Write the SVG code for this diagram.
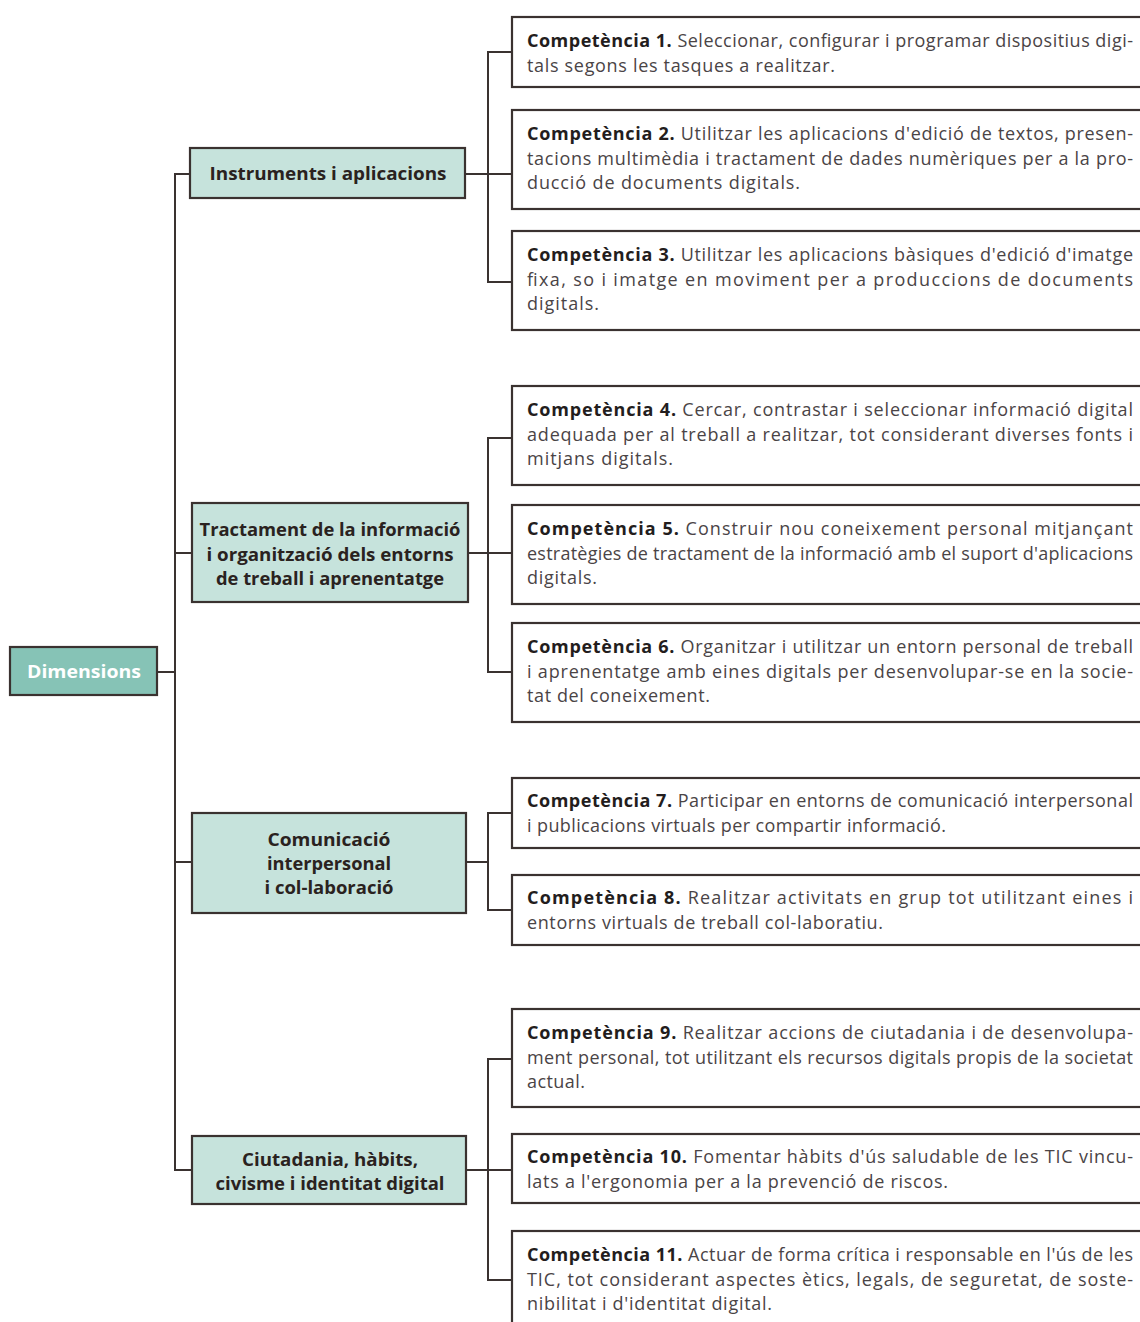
<svg xmlns="http://www.w3.org/2000/svg" width="1140" height="1322" viewBox="0 0 1140 1322">
<style>
.bg{fill:#ffffff}
.comp{fill:#ffffff;stroke:#3a3230;stroke-width:2.2}
.dim{fill:#c6e3dc;stroke:#3a3230;stroke-width:2.2}
.root{fill:#86c3b6;stroke:#3a3230;stroke-width:2.2}
.lbl{font-family:"Open Sans","Liberation Sans",sans-serif;font-size:18px;font-weight:bold;fill:#2a2220;text-anchor:middle}
.rootlbl{font-family:"Open Sans","Liberation Sans",sans-serif;font-size:18px;font-weight:bold;fill:#ffffff;text-anchor:middle}
.t{font-family:"Open Sans","Liberation Sans",sans-serif;font-size:18px;fill:#4a4446}
.b{font-weight:bold;fill:#231d1d}
.conn{fill:none;stroke:#3a3230;stroke-width:2}
</style>
<rect class="bg" x="0" y="0" width="1140" height="1322"/>

<g id="connectors">
  <path class="conn" d="M157,672 H175"/>
  <path class="conn" d="M190,174 H175 V1170 H192"/>
  <path class="conn" d="M175,553 H192"/>
  <path class="conn" d="M175,862 H192"/>
  <path class="conn" d="M465,174 H512"/>
  <path class="conn" d="M512,52 H488 V282 H512"/>
  <path class="conn" d="M468,553 H512"/>
  <path class="conn" d="M512,438 H488 V672 H512"/>
  <path class="conn" d="M466,862 H488"/>
  <path class="conn" d="M512,813 H488 V910 H512"/>
  <path class="conn" d="M466,1170 H512"/>
  <path class="conn" d="M512,1059 H488 V1280 H512"/>
</g>

<g id="dimensions">
  <rect class="root" x="10" y="647" width="147" height="48"/>
  <text class="rootlbl" x="84" y="678" textLength="114" lengthAdjust="spacingAndGlyphs">Dimensions</text>
</g>

<g id="instruments">
  <rect class="dim" x="190" y="148" width="275" height="50"/>
  <text class="lbl" x="328" y="180" textLength="237" lengthAdjust="spacingAndGlyphs">Instruments i aplicacions</text>
</g>

<g id="tractament">
  <rect class="dim" x="192" y="503" width="276" height="99"/>
  <text class="lbl" x="330" y="536" textLength="261" lengthAdjust="spacingAndGlyphs">Tractament de la informació</text>
  <text class="lbl" x="330" y="561" textLength="247" lengthAdjust="spacingAndGlyphs">i organització dels entorns</text>
  <text class="lbl" x="330" y="585" textLength="228" lengthAdjust="spacingAndGlyphs">de treball i aprenentatge</text>
</g>

<g id="comunicacio">
  <rect class="dim" x="192" y="813" width="274" height="100"/>
  <text class="lbl" x="329" y="846" textLength="123" lengthAdjust="spacingAndGlyphs">Comunicació</text>
  <text class="lbl" x="329" y="870" textLength="124" lengthAdjust="spacingAndGlyphs">interpersonal</text>
  <text class="lbl" x="329" y="894" textLength="129" lengthAdjust="spacingAndGlyphs">i col-laboració</text>
</g>

<g id="ciutadania">
  <rect class="dim" x="192" y="1136" width="274" height="68"/>
  <text class="lbl" x="330" y="1166" textLength="176" lengthAdjust="spacingAndGlyphs">Ciutadania, hàbits,</text>
  <text class="lbl" x="330" y="1190" textLength="229" lengthAdjust="spacingAndGlyphs">civisme i identitat digital</text>
</g>

<g id="comp1">
  <rect class="comp" x="512" y="17" width="640" height="70"/>
  <text class="t" x="527" y="47" textLength="606" lengthAdjust="spacing"><tspan class="b">Competència 1.</tspan> Seleccionar, configurar i programar dispositius digi-</text>
  <text class="t" x="527" y="71.5" textLength="308" lengthAdjust="spacing">tals segons les tasques a realitzar.</text>
</g>

<g id="comp2">
  <rect class="comp" x="512" y="110" width="640" height="99"/>
  <text class="t" x="527" y="140" textLength="606" lengthAdjust="spacing"><tspan class="b">Competència 2.</tspan> Utilitzar les aplicacions d'edició de textos, presen-</text>
  <text class="t" x="527" y="164.5" textLength="606" lengthAdjust="spacing">tacions multimèdia i tractament de dades numèriques per a la pro-</text>
  <text class="t" x="527" y="189" textLength="273" lengthAdjust="spacing">ducció de documents digitals.</text>
</g>

<g id="comp3">
  <rect class="comp" x="512" y="231" width="640" height="99"/>
  <text class="t" x="527" y="261" textLength="606" lengthAdjust="spacing"><tspan class="b">Competència 3.</tspan> Utilitzar les aplicacions bàsiques d'edició d'imatge</text>
  <text class="t" x="527" y="285.5" textLength="606" lengthAdjust="spacing">fixa, so i imatge en moviment per a produccions de documents</text>
  <text class="t" x="527" y="310" textLength="72" lengthAdjust="spacing">digitals.</text>
</g>

<g id="comp4">
  <rect class="comp" x="512" y="386" width="640" height="99"/>
  <text class="t" x="527" y="416" textLength="606" lengthAdjust="spacing"><tspan class="b">Competència 4.</tspan> Cercar, contrastar i seleccionar informació digital</text>
  <text class="t" x="527" y="440.5" textLength="606" lengthAdjust="spacing">adequada per al treball a realitzar, tot considerant diverses fonts i</text>
  <text class="t" x="527" y="465" textLength="146" lengthAdjust="spacing">mitjans digitals.</text>
</g>

<g id="comp5">
  <rect class="comp" x="512" y="505" width="640" height="99"/>
  <text class="t" x="527" y="535" textLength="606" lengthAdjust="spacing"><tspan class="b">Competència 5.</tspan> Construir nou coneixement personal mitjançant</text>
  <text class="t" x="527" y="559.5" textLength="606" lengthAdjust="spacing">estratègies de tractament de la informació amb el suport d'aplicacions</text>
  <text class="t" x="527" y="584" textLength="70" lengthAdjust="spacing">digitals.</text>
</g>

<g id="comp6">
  <rect class="comp" x="512" y="623" width="640" height="99"/>
  <text class="t" x="527" y="653" textLength="606" lengthAdjust="spacing"><tspan class="b">Competència 6.</tspan> Organitzar i utilitzar un entorn personal de treball</text>
  <text class="t" x="527" y="677.5" textLength="606" lengthAdjust="spacing">i aprenentatge amb eines digitals per desenvolupar-se en la socie-</text>
  <text class="t" x="527" y="702" textLength="183" lengthAdjust="spacing">tat del coneixement.</text>
</g>

<g id="comp7">
  <rect class="comp" x="512" y="778" width="640" height="70"/>
  <text class="t" x="527" y="807" textLength="606" lengthAdjust="spacing"><tspan class="b">Competència 7.</tspan> Participar en entorns de comunicació interpersonal</text>
  <text class="t" x="527" y="831.5" textLength="419" lengthAdjust="spacing">i publicacions virtuals per compartir informació.</text>
</g>

<g id="comp8">
  <rect class="comp" x="512" y="875" width="640" height="70"/>
  <text class="t" x="527" y="904" textLength="606" lengthAdjust="spacing"><tspan class="b">Competència 8.</tspan> Realitzar activitats en grup tot utilitzant eines i</text>
  <text class="t" x="527" y="928.5" textLength="356" lengthAdjust="spacing">entorns virtuals de treball col-laboratiu.</text>
</g>

<g id="comp9">
  <rect class="comp" x="512" y="1009" width="640" height="98"/>
  <text class="t" x="527" y="1039" textLength="606" lengthAdjust="spacing"><tspan class="b">Competència 9.</tspan> Realitzar accions de ciutadania i de desenvolupa-</text>
  <text class="t" x="527" y="1063.5" textLength="606" lengthAdjust="spacing">ment personal, tot utilitzant els recursos digitals propis de la societat</text>
  <text class="t" x="527" y="1088" textLength="58" lengthAdjust="spacing">actual.</text>
</g>

<g id="comp10">
  <rect class="comp" x="512" y="1134" width="640" height="69"/>
  <text class="t" x="527" y="1163" textLength="606" lengthAdjust="spacing"><tspan class="b">Competència 10.</tspan> Fomentar hàbits d'ús saludable de les TIC vincu-</text>
  <text class="t" x="527" y="1187.5" textLength="421" lengthAdjust="spacing">lats a l'ergonomia per a la prevenció de riscos.</text>
</g>

<g id="comp11">
  <rect class="comp" x="512" y="1231" width="640" height="110"/>
  <text class="t" x="527" y="1261" textLength="606" lengthAdjust="spacing"><tspan class="b">Competència 11.</tspan> Actuar de forma crítica i responsable en l'ús de les</text>
  <text class="t" x="527" y="1285.5" textLength="606" lengthAdjust="spacing">TIC, tot considerant aspectes ètics, legals, de seguretat, de soste-</text>
  <text class="t" x="527" y="1310" textLength="245" lengthAdjust="spacing">nibilitat i d'identitat digital.</text>
</g>
</svg>
